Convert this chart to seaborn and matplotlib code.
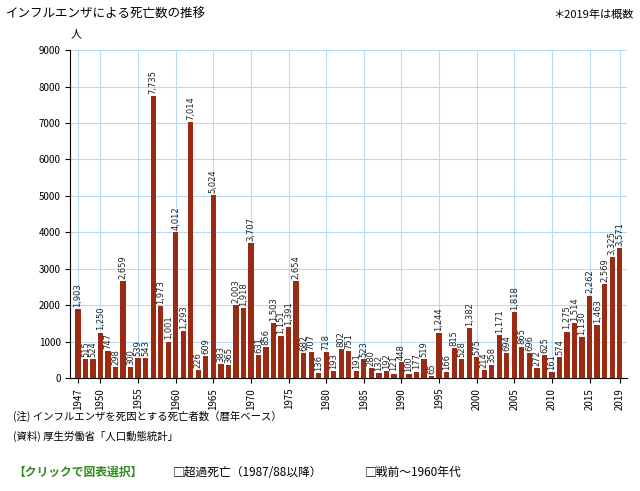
import matplotlib
matplotlib.use("Agg")
import matplotlib.pyplot as plt
import seaborn as sns
import pandas as pd

years = list(range(1947, 2020))
deaths = [1903, 515, 524, 1250, 747, 298, 2659, 300, 539, 543,
          7735, 1973, 1001, 4012, 1293, 7014, 226, 609, 5024, 383,
          365, 2003, 1918, 3707, 631, 856, 1503, 1151, 1391, 2654,
          682, 707, 136, 718, 193, 802, 751, 191, 523, 280,
          132, 192, 121, 448, 100, 177, 519, 65, 1244, 166,
          815, 528, 1382, 575, 214, 358, 1171, 694, 1818, 865,
          696, 272, 625, 161, 574, 1275, 1514, 1130, 2262, 1463,
          2569, 3325, 3571]
tick_years = [1947, 1950, 1955, 1960, 1965, 1970, 1975, 1980, 1985, 1990,
              1995, 2000, 2005, 2010, 2015, 2019]

plt.rcParams["font.family"] = "Noto Sans CJK JP"
df = pd.DataFrame({"year": [str(y) for y in years], "deaths": deaths})

fig = plt.figure(figsize=(6.4, 4.91), dpi=100)
ax = fig.add_axes([0.11, 0.23, 0.87, 0.668])
sns.barplot(data=df, x="year", y="deaths", color="#9b2a12", width=0.7,
            saturation=1, ax=ax, zorder=3)
ax.set_ylim(0, 9000)
ax.set_xlim(-1, len(years))
ax.set_yticks(range(0, 9001, 1000))
ax.tick_params(axis="y", labelsize=7)
idx = [years.index(y) for y in tick_years]
ax.set_xticks(idx)
ax.set_xticklabels([str(y) for y in tick_years], rotation=90, fontsize=7)
ax.grid(True, color="#b8dcf5", linewidth=0.8, zorder=0)
ax.set_axisbelow(True)
for s in ["top", "right"]:
    ax.spines[s].set_visible(False)
ax.set_xlabel("")
ax.set_ylabel("")
for i, v in enumerate(deaths):
    ax.text(i, v + 60, f"{v:,}", rotation=90, ha="center", va="bottom",
            fontsize=6, color="#222222", family="DejaVu Sans")

fig.text(0.11, 0.925, "人", fontsize=8)
fig.text(0.01, 0.97, "インフルエンザによる死亡数の推移", fontsize=9, va="center")
fig.text(0.99, 0.97, "＊2019年は概数", fontsize=8, ha="right", va="center")
fig.text(0.02, 0.145, "(注) インフルエンザを死因とする死亡者数（暦年ベース）", fontsize=7.5)
fig.text(0.02, 0.105, "(資料) 厚生労働省「人口動態統計」", fontsize=7.5)
fig.text(0.02, 0.03, "【クリックで図表選択】", fontsize=8.5, color="#2e8b1e", weight="bold")
fig.text(0.27, 0.03, "□超過死亡（1987/88以降）", fontsize=8.5)
fig.text(0.57, 0.03, "□戦前～1960年代", fontsize=8.5)

fig.savefig("out.png", dpi=100)
